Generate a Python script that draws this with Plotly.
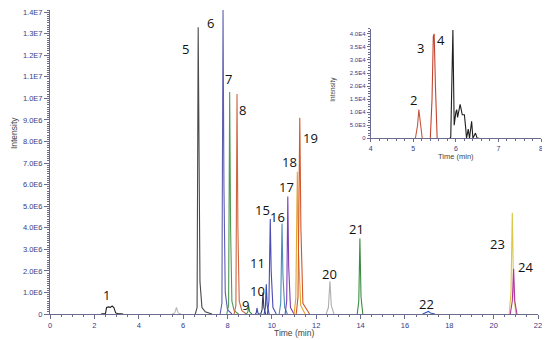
import plotly.graph_objects as go

# ---------------- data (time in min, intensity in counts) ----------------
main_names = ["1", "s57", "5", "6", "7", "8", "9", "s933", "10", "11", "15", "16",
              "17", "18", "19", "20", "21", "22", "23", "24"]
main_colors = ["#222222", "#b8b8b8", "#4a4a4a", "#5e5eb0", "#4f9a55", "#d0653f",
               "#3e8e45", "#4050a8", "#3a3a55", "#3548a8", "#4b4cb5", "#4a8cb8",
               "#7d3fb5", "#e2a62a", "#d2572a", "#b0b0b0", "#3a8c42", "#3555b5",
               "#d9c64a", "#b2359a"]
main_t = [
    [2.3, 2.5, 2.55, 2.65, 2.72, 2.8, 2.88, 2.96, 3.05, 3.3],
    [5.5, 5.62, 5.7, 5.78, 5.9],
    [6.55, 6.63, 6.68, 6.72, 6.76, 6.85, 7.0, 7.3],
    [7.67, 7.75, 7.8, 7.84, 7.9, 8.0, 8.2],
    [7.97, 8.05, 8.1, 8.14, 8.2, 8.3, 8.5],
    [8.3, 8.38, 8.43, 8.47, 8.53, 8.65, 8.85],
    [8.85, 8.92, 8.96, 9.0, 9.1],
    [9.25, 9.3, 9.33, 9.37, 9.45],
    [9.5, 9.56, 9.6, 9.64, 9.72],
    [9.65, 9.71, 9.75, 9.79, 9.88],
    [9.8, 9.87, 9.93, 9.97, 10.05, 10.2],
    [10.33, 10.4, 10.46, 10.5, 10.58, 10.7],
    [10.6, 10.67, 10.72, 10.76, 10.84, 11.0],
    [11.0, 11.08, 11.15, 11.2, 11.3, 11.5],
    [11.1, 11.18, 11.26, 11.31, 11.4, 11.7],
    [12.45, 12.55, 12.62, 12.68, 12.8],
    [13.85, 13.92, 13.97, 14.02, 14.1],
    [16.8, 16.95, 17.06, 17.15, 17.35],
    [20.7, 20.78, 20.84, 20.9, 21.0],
    [20.75, 20.84, 20.9, 20.95, 21.05],
]
main_i = [
    [0, 20000, 300000, 330000, 310000, 370000, 300000, 50000, 20000, 0],
    [0, 50000, 300000, 50000, 0],
    [0, 300000, 13300000, 8000000, 1500000, 300000, 100000, 0],
    [0, 500000, 14100000, 6000000, 1000000, 200000, 0],
    [0, 400000, 10300000, 4000000, 600000, 150000, 0],
    [0, 400000, 10200000, 4000000, 600000, 150000, 0],
    [0, 100000, 350000, 100000, 0],
    [0, 50000, 280000, 50000, 0],
    [0, 200000, 1000000, 300000, 0],
    [0, 300000, 1380000, 400000, 0],
    [0, 600000, 4400000, 2000000, 300000, 0],
    [0, 500000, 4200000, 1800000, 300000, 0],
    [0, 600000, 5450000, 2200000, 300000, 0],
    [0, 700000, 6600000, 3000000, 400000, 0],
    [0, 800000, 9100000, 4000000, 500000, 0],
    [0, 300000, 1520000, 400000, 0],
    [0, 600000, 3500000, 800000, 0],
    [0, 50000, 120000, 50000, 0],
    [0, 1000000, 4700000, 1000000, 0],
    [0, 600000, 2100000, 600000, 0],
]

inset_colors = ["#c8553f", "#c4432f", "#1e1e1e"]
inset_t = [
    [5.05, 5.1, 5.13, 5.17, 5.21],
    [5.4, 5.44, 5.47, 5.49, 5.52, 5.56],
    [5.86, 5.88, 5.93, 5.96, 6.0, 6.02, 6.04, 6.1, 6.15, 6.2, 6.23, 6.25,
     6.29, 6.32, 6.37, 6.4, 6.46, 6.5, 6.55],
]
inset_i = [
    [0, 5000, 11000, 6000, 0],
    [0, 15000, 39000, 40000, 20000, 0],
    [0, 500, 41500, 5000, 10000, 11000, 8000, 13000, 9000, 9000, 4000, 0,
     3500, 0, 6500, 0, 2000, 0, 0],
]

main_yticks = [i * 1e6 for i in range(15)]
main_yticktext = ["0"] + [f"{v:.1f}E6" for v in range(1, 10)] + ["1.0E7", "1.1E7", "1.2E7", "1.3E7", "1.4E7"]
inset_yticks = [i * 5000 for i in range(9)]
inset_yticktext = ["0", "5.0E3", "1.0E4", "1.5E4", "2.0E4", "2.5E4", "3.0E4", "3.5E4", "4.0E4"]

peak_labels = [("1", 2.56, 0.88e6), ("5", 6.11, 12.3e6), ("6", 7.23, 13.5e6),
               ("7", 8.04, 10.88e6), ("8", 8.67, 9.45e6), ("9", 8.80, 0.41e6),
               ("10", 9.34, 1.06e6), ("11", 9.34, 2.35e6), ("15", 9.56, 4.84e6),
               ("16", 10.24, 4.52e6), ("17", 10.64, 5.9e6), ("18", 10.78, 7.05e6),
               ("19", 11.76, 8.16e6), ("20", 12.62, 1.84e6), ("21", 13.83, 3.92e6),
               ("22", 16.97, 0.46e6), ("23", 20.16, 3.27e6), ("24", 21.42, 2.17e6)]
inset_labels = [("2", 5.01, 14500), ("3", 5.17, 34700), ("4", 5.64, 37700)]

# ---------------- figure ----------------
fig = go.Figure()
for t, i, c in zip(main_t, main_i, main_colors):
    fig.add_trace(go.Scatter(x=t, y=i, mode="lines", line=dict(color=c, width=1.1),
                             xaxis="x", yaxis="y", showlegend=False, hoverinfo="skip"))
for t, i, c in zip(inset_t, inset_i, inset_colors):
    fig.add_trace(go.Scatter(x=t, y=i, mode="lines", line=dict(color=c, width=1.1),
                             xaxis="x2", yaxis="y2", showlegend=False, hoverinfo="skip"))

axcol = "#6b6b8e"
tickcol = "#3a3a85"
tfont = dict(family="Liberation Sans, Arial", size=7.5, color=tickcol)
lfont = dict(family="Open Sans, Liberation Sans", size=13, color="#111")

annotations = []
for txt, x, y in peak_labels:
    annotations.append(dict(text=txt, x=x, y=y, xref="x", yref="y", showarrow=False, font=lfont))
for txt, x, y in inset_labels:
    annotations.append(dict(text=txt, x=x, y=y, xref="x2", yref="y2", showarrow=False, font=lfont))
annotations += [
    dict(text="Time (min)", x=245 / 498, y=0, xref="paper", yref="paper", yshift=-19,
         xanchor="center", yanchor="middle",
         showarrow=False, font=dict(family="Liberation Sans, Arial", size=8.5, color="#444")),
    dict(text="Intensity", x=0, y=0.595, xref="paper", yref="paper", xshift=-36, textangle=-90,
         xanchor="center", yanchor="middle",
         showarrow=False, font=dict(family="Liberation Sans, Arial", size=8.5, color="#444")),
    dict(text="Time (min)", x=(0.6466 + 0.99) / 2, y=0.578, xref="paper", yref="paper", yshift=-18,
         xanchor="center", yanchor="middle",
         showarrow=False, font=dict(family="Liberation Sans, Arial", size=7.5, color="#444")),
    dict(text="Intensity", x=0.6466, y=0.74, xref="paper", yref="paper", xshift=-38, textangle=-90,
         xanchor="center", yanchor="middle",
         showarrow=False, font=dict(family="Liberation Sans, Arial", size=6.5, color="#444")),
]

# the page body adds an 8px offset, so the figure is 8px smaller on each side
fig.update_layout(
    width=542, height=332,
    margin=dict(l=42, r=2, t=0, b=26),
    paper_bgcolor="white", plot_bgcolor="rgba(0,0,0,0)",
    showlegend=False,
    xaxis=dict(domain=[0, 490 / 498], range=[0, 22], tickvals=list(range(0, 23, 2)),
               showgrid=False, zeroline=False, showline=True, linecolor=axcol, linewidth=1,
               ticks="outside", ticklen=4, tickcolor=axcol, tickfont=tfont,
               minor=dict(dtick=0.5, ticks="outside", ticklen=2, tickcolor=axcol, showgrid=False),
               anchor="y"),
    yaxis=dict(domain=[0, 1], range=[0, 14.1e6], tickvals=main_yticks, ticktext=main_yticktext,
               showgrid=False, zeroline=False, showline=True, linecolor=axcol, linewidth=1,
               ticks="outside", ticklen=5, tickcolor=axcol, tickfont=tfont,
               ticklabeloverflow="allow",
               minor=dict(dtick=1e5, tick0=0, ticks="outside", ticklen=2, tickcolor=axcol, showgrid=False),
               anchor="x"),
    xaxis2=dict(domain=[0.6466, 0.99], range=[4, 8], tickvals=[4, 5, 6, 7, 8],
                showgrid=False, zeroline=False, showline=True, linecolor=axcol, linewidth=1,
                ticks="outside", ticklen=3, tickcolor=axcol,
                tickfont=dict(family="Liberation Sans, Arial", size=7, color=tickcol),
                minor=dict(dtick=0.2, ticks="outside", ticklen=2, tickcolor=axcol, showgrid=False),
                anchor="y2"),
    yaxis2=dict(domain=[0.578, 0.9387], range=[0, 42000], tickvals=inset_yticks, ticktext=inset_yticktext,
                showgrid=False, zeroline=False, showline=True, linecolor=axcol, linewidth=1,
                ticks="outside", ticklen=3, tickcolor=axcol,
                tickfont=dict(family="Liberation Sans, Arial", size=6, color=tickcol),
                minor=dict(dtick=1000, tick0=0, ticks="outside", ticklen=1.5, tickcolor=axcol, showgrid=False),
                anchor="x2"),
    annotations=annotations,
)

fig.write_html("out.html")
